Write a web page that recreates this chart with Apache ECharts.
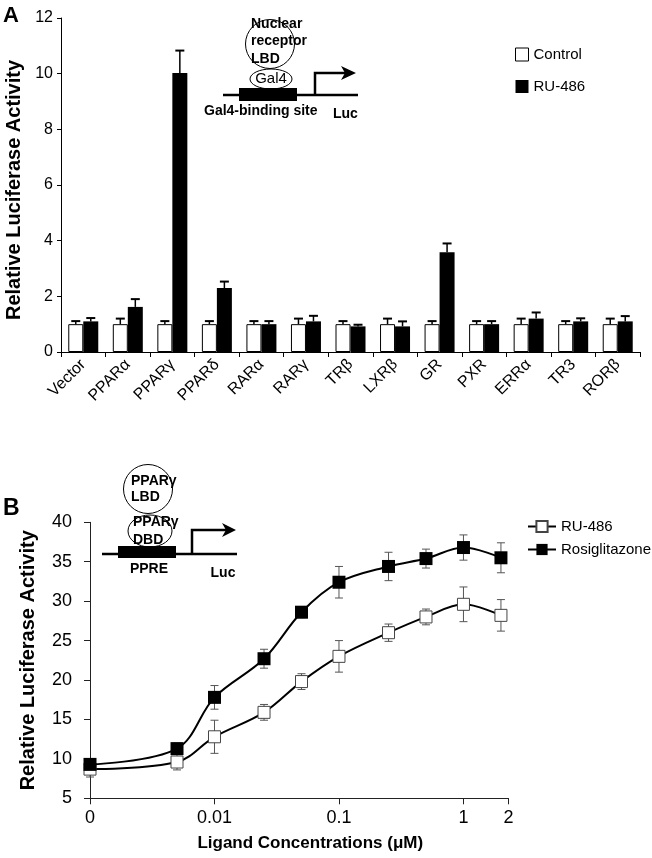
<!DOCTYPE html>
<html><head><meta charset="utf-8">
<script src="https://cdn.jsdelivr.net/npm/echarts@6/dist/echarts.min.js"></script>
<style>html,body{margin:0;padding:0;background:#fff}#c{width:652px;height:858px}</style>
</head><body><div id="c"></div>
<script>
// ---------- Panel A data ----------
const categories = ['Vector','PPARα','PPARγ','PPARδ','RARα','RARγ','TRβ','LXRβ','GR','PXR','ERRα','TR3','RORβ'];
const controlValues = [1.0,1.0,1.0,1.0,1.0,1.0,1.0,1.0,1.0,1.0,1.0,1.0,1.0];
const controlErrors = [0.11,0.2,0.11,0.11,0.11,0.2,0.11,0.2,0.11,0.11,0.2,0.11,0.2];
const ru486Values = [1.1,1.62,10.02,2.3,1.0,1.1,0.92,0.92,3.58,1.0,1.2,1.1,1.1];
const ru486Errors = [0.12,0.28,0.81,0.23,0.11,0.2,0.06,0.18,0.32,0.11,0.22,0.11,0.19];
const yTicksA = {min:0, max:12, interval:2};

// ---------- Panel B data ----------
// the "0" concentration is placed at 0.001 on the log axis
const concentrations = [0.001,0.005,0.01,0.025,0.05,0.1,0.25,0.5,1,2];
const ruCurve    = [8.7,9.6,12.8,15.9,19.8,23.0,26.0,28.0,29.6,28.2];
const ruCurveErr = [1.0,1.0,2.1,1.0,1.0,2.0,1.1,1.0,2.2,2.0];
const rosiCurve    = [9.3,11.3,17.8,22.7,28.6,32.4,34.4,35.4,36.8,35.5];
const rosiCurveErr = [0.4,0.7,1.5,1.2,0.7,2.0,1.8,1.2,1.6,1.9];
const yTicksB = {min:5, max:40, interval:5};
const xTickLabelsB = {'-3':'0','-2':'0.01','-1':'0.1','0':'1'};
const xMaxLabelB = '2';

const FONT = 'Liberation Sans, Arial, sans-serif';
const chart = echarts.init(document.getElementById('c'), null, {renderer:'canvas'});

function barErr(offset){
  return function(params, api){
    const x = api.value(0), v = api.value(1), e = api.value(2);
    const p0 = api.coord([x, v]), p1 = api.coord([x, v + e]);
    const cx = p0[0] + offset;
    return {type:'group', children:[
      {type:'line', shape:{x1:cx,y1:p0[1],x2:cx,y2:p1[1]}, style:{stroke:'#000',lineWidth:1.5}},
      {type:'line', shape:{x1:cx-4.5,y1:p1[1],x2:cx+4.5,y2:p1[1]}, style:{stroke:'#000',lineWidth:2}}
    ]};
  };
}
function lineErr(params, api){
  const x = api.value(0), v = api.value(1), e = api.value(2);
  const t = api.coord([x, v + e]), b = api.coord([x, v - e]);
  const cx = t[0];
  const st = {stroke:'#555', lineWidth:1};
  return {type:'group', children:[
    {type:'line', shape:{x1:cx,y1:t[1],x2:cx,y2:b[1]}, style:st},
    {type:'line', shape:{x1:cx-4,y1:t[1],x2:cx+4,y2:t[1]}, style:st},
    {type:'line', shape:{x1:cx-4,y1:b[1],x2:cx+4,y2:b[1]}, style:st}
  ]};
}

const txt = (text, x, y, size, bold, align) => ({
  type:'text', z:100,
  style:{text, x, y, font:(bold?'bold ':'')+size+'px '+FONT, fill:'#000',
    textAlign:align||'left', textVerticalAlign:'middle', align:align||'left', verticalAlign:'middle'}
});
const ln = (pts, w) => ({type:'polyline', z:100, shape:{points:pts}, style:{stroke:'#000', lineWidth:w, fill:null}});

const graphics = [
  txt('A', 3, 16, 22, true),
  txt('B', 3, 509, 23, true),
  // Panel A schematic
  {type:'circle', z:100, shape:{cx:270, cy:44, r:24.5}, style:{fill:null, stroke:'#000', lineWidth:1}},
  txt('Nuclear', 251, 24, 14, true),
  txt('receptor', 251, 41, 14, true),
  txt('LBD', 251, 59, 14, true),
  {type:'ellipse', z:100, shape:{cx:271, cy:79, rx:21, ry:10}, style:{fill:'#fff', stroke:'#000', lineWidth:1}},
  txt('Gal4', 271, 79, 15, false, 'center'),
  ln([[223,95],[358,95]], 2.5),
  {type:'rect', z:100, shape:{x:239, y:88, width:58, height:13}, style:{fill:'#000'}},
  ln([[315,95],[315,73],[350,73]], 2.5),
  {type:'polygon', z:100, shape:{points:[[341,66],[356,73],[341,80],[345,73]]}, style:{fill:'#000'}},
  txt('Gal4-binding site', 204, 111, 14, true),
  txt('Luc', 333, 114, 14, true),
  // Panel B schematic
  {type:'circle', z:100, shape:{cx:148, cy:489, r:24.5}, style:{fill:null, stroke:'#000', lineWidth:1}},
  txt('PPARγ', 131, 481, 14, true),
  txt('LBD', 131, 497, 14, true),
  {type:'ellipse', z:100, shape:{cx:150, cy:531, rx:22, ry:16}, style:{fill:null, stroke:'#000', lineWidth:1}},
  txt('PPARγ', 133, 522, 14, true),
  txt('DBD', 133, 540, 14, true),
  ln([[102,554],[237,554]], 2.5),
  {type:'rect', z:101, shape:{x:118, y:546, width:58, height:12}, style:{fill:'#000'}},
  ln([[192,554],[192,530],[228,530]], 2.5),
  {type:'polygon', z:100, shape:{points:[[222,523],[236,530],[222,537],[226,530]]}, style:{fill:'#000'}},
  txt('PPRE', 149, 569, 14, true, 'center'),
  txt('Luc', 223, 573, 14, true, 'center')
];

const axisLineBlack = {show:true, lineStyle:{color:'#000', width:1}};

chart.setOption({
  animation:false,
  backgroundColor:'#fff',
  textStyle:{fontFamily:FONT},
  grid:[
    {left:61, top:18, right:12, bottom:506, containLabel:false, outerBoundsMode:'none'},
    {left:90, top:522.3, right:143.5, bottom:59.7, containLabel:false, outerBoundsMode:'none'}
  ],
  legend:[
    {left:515, top:47, padding:0, orient:'vertical', icon:'rect', itemWidth:13, itemHeight:13, itemGap:17,
     selectedMode:false, textStyle:{fontSize:15, color:'#000', fontFamily:FONT},
     data:[{name:'Control', itemStyle:{color:'#fff', borderColor:'#000', borderWidth:1}},
           {name:'RU-486', itemStyle:{color:'#000'}}]},
    {left:527, top:519, padding:0, orient:'vertical', itemWidth:28, itemHeight:14, itemGap:8,
     selectedMode:false, textStyle:{fontSize:15, color:'#000', fontFamily:FONT},
     formatter: n => n.replace(' (B)',''),
     data:['RU-486 (B)','Rosiglitazone']}
  ],
  xAxis:[
    {type:'category', gridIndex:0, data:categories,
     axisLine:axisLineBlack, axisTick:{show:true, length:5, interval:0, lineStyle:{color:'#000'}},
     axisLabel:{interval:0, rotate:45, fontSize:16, color:'#000', margin:10, fontFamily:FONT},
     splitLine:{show:false}},
    {type:'log', logBase:10, gridIndex:1, min:0.001, max:2.3,
     axisLine:{show:true, lineStyle:{color:'#222', width:1}},
     axisTick:{show:true, length:6, lineStyle:{color:'#222'}},
     minorTick:{show:false}, splitLine:{show:false}, minorSplitLine:{show:false},
     axisLabel:{fontSize:18, color:'#000', margin:11, fontFamily:FONT, showMaxLabel:true, showMinLabel:true,
       formatter: v => v > 1.5 ? xMaxLabelB : (xTickLabelsB[String(Math.round(Math.log10(v)))] || '')},
     name:'Ligand Concentrations (μM)', nameLocation:'middle', nameGap:37,
     nameTextStyle:{fontSize:17, fontWeight:'bold', color:'#000', fontFamily:FONT, padding:[0,0,0,22]}}
  ],
  yAxis:[
    {type:'value', gridIndex:0, min:yTicksA.min, max:yTicksA.max, interval:yTicksA.interval,
     axisLine:axisLineBlack, axisTick:{show:true, length:4, lineStyle:{color:'#000'}},
     axisLabel:{fontSize:16, color:'#000', margin:8, fontFamily:FONT},
     splitLine:{show:false},
     name:'Relative Luciferase Activity', nameLocation:'middle', nameRotate:90, nameGap:34,
     nameTextStyle:{fontSize:20, fontWeight:'bold', color:'#000', fontFamily:FONT, padding:[0,10,0,0]}},
    {type:'value', gridIndex:1, min:yTicksB.min, max:yTicksB.max, interval:yTicksB.interval,
     axisLine:{show:true, lineStyle:{color:'#222', width:1}},
     axisTick:{show:true, length:6, lineStyle:{color:'#222'}},
     axisLabel:{fontSize:18, color:'#000', margin:18, fontFamily:FONT},
     splitLine:{show:false},
     name:'Relative Luciferase Activity', nameLocation:'middle', nameRotate:90, nameGap:52,
     nameTextStyle:{fontSize:20, fontWeight:'bold', color:'#000', fontFamily:FONT}}
  ],
  series:[
    {name:'Control', type:'bar', xAxisIndex:0, yAxisIndex:0, data:controlValues,
     barWidth:15, barGap:'0%', itemStyle:{color:'#fff', borderColor:'#000', borderWidth:1}},
    {name:'RU-486', type:'bar', xAxisIndex:0, yAxisIndex:0, data:ru486Values,
     barWidth:15, barGap:'0%', itemStyle:{color:'#000'}},
    {type:'custom', xAxisIndex:0, yAxisIndex:0, z:3, renderItem:barErr(-7.5), encode:{x:0, y:1},
     data:controlValues.map((v,i)=>[i, v, controlErrors[i]])},
    {type:'custom', xAxisIndex:0, yAxisIndex:0, z:3, renderItem:barErr(7.5), encode:{x:0, y:1},
     data:ru486Values.map((v,i)=>[i, v, ru486Errors[i]])},
    {type:'custom', xAxisIndex:1, yAxisIndex:1, z:1, renderItem:lineErr, encode:{x:0, y:1},
     data:concentrations.map((c,i)=>[c, ruCurve[i], ruCurveErr[i]])},
    {type:'custom', xAxisIndex:1, yAxisIndex:1, z:1, renderItem:lineErr, encode:{x:0, y:1},
     data:concentrations.map((c,i)=>[c, rosiCurve[i], rosiCurveErr[i]])},
    {name:'RU-486 (B)', type:'line', xAxisIndex:1, yAxisIndex:1, z:5, smooth:0.35,
     symbol:'rect', symbolSize:12, showAllSymbol:true,
     lineStyle:{color:'#000', width:2}, itemStyle:{color:'#fff', borderColor:'#444', borderWidth:1},
     data:concentrations.map((c,i)=>[c, ruCurve[i]])},
    {name:'Rosiglitazone', type:'line', xAxisIndex:1, yAxisIndex:1, z:6, smooth:0.35,
     symbol:'rect', symbolSize:13, showAllSymbol:true,
     lineStyle:{color:'#000', width:2}, itemStyle:{color:'#000', borderColor:'#000', borderWidth:0},
     data:concentrations.map((c,i)=>[c, rosiCurve[i]])}
  ],
  graphic: graphics
});
</script></body></html>
